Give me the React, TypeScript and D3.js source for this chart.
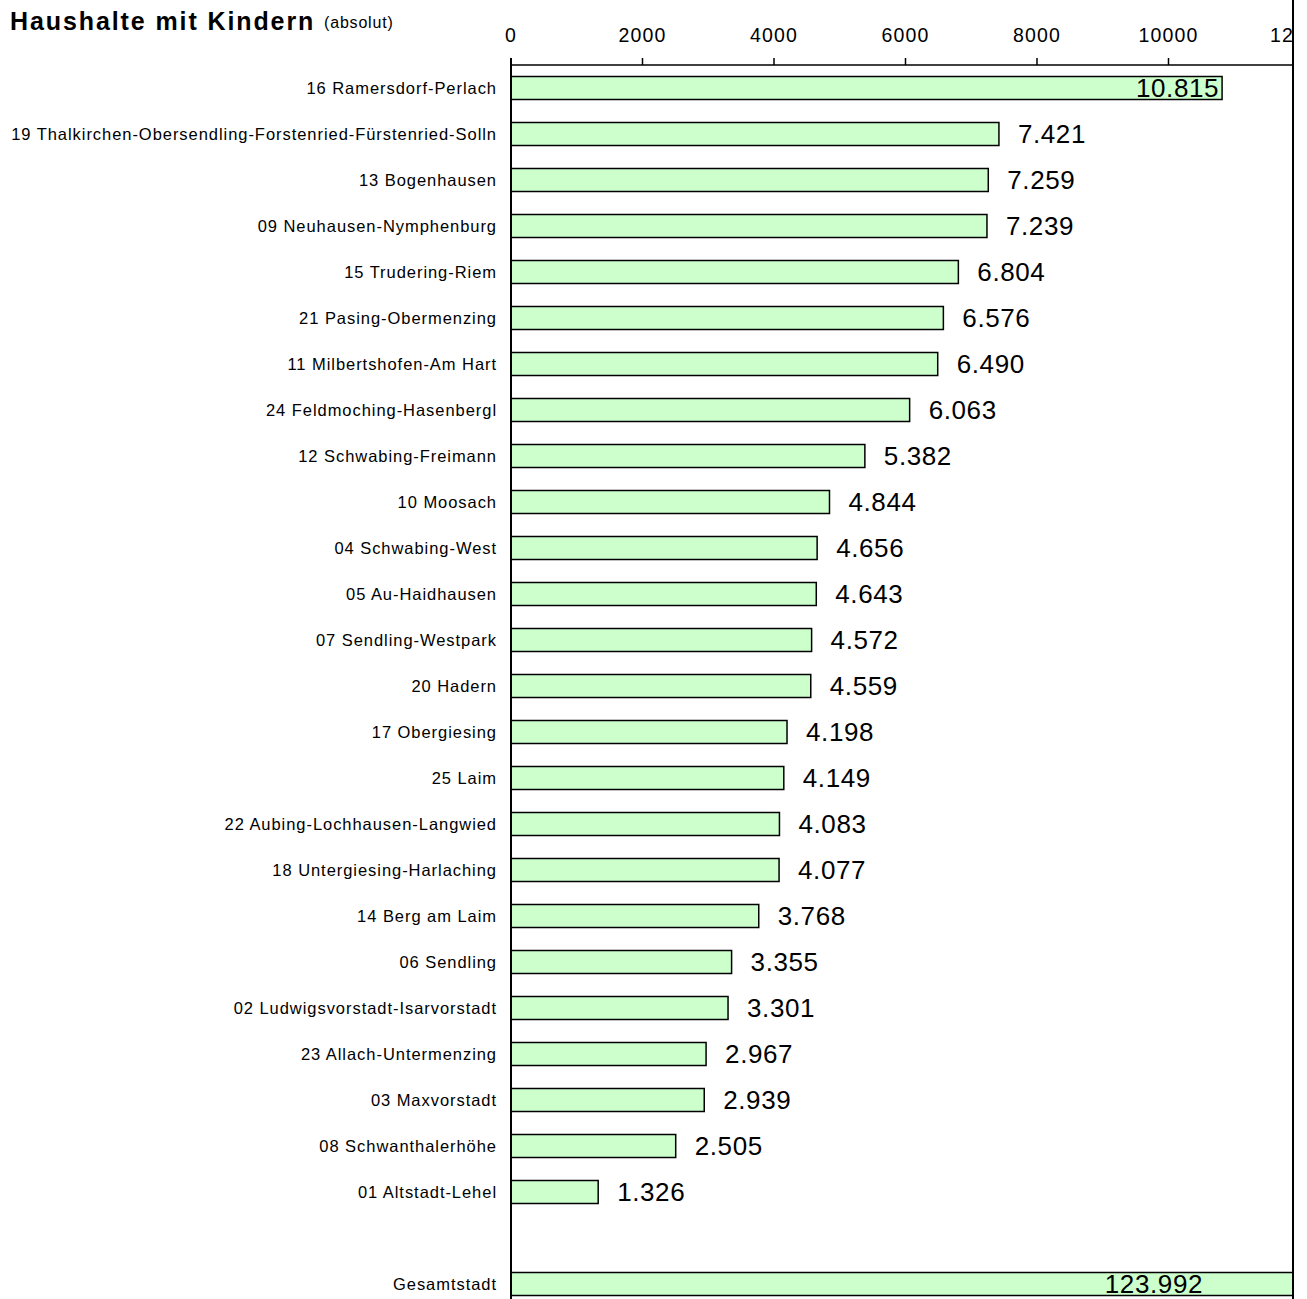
import * as d3 from 'd3';

// Haushalte mit Kindern je Stadtbezirk (absolut)
const districts = [
	'16 Ramersdorf-Perlach',
	'19 Thalkirchen-Obersendling-Forstenried-Fürstenried-Solln',
	'13 Bogenhausen',
	'09 Neuhausen-Nymphenburg',
	'15 Trudering-Riem',
	'21 Pasing-Obermenzing',
	'11 Milbertshofen-Am Hart',
	'24 Feldmoching-Hasenbergl',
	'12 Schwabing-Freimann',
	'10 Moosach',
	'04 Schwabing-West',
	'05 Au-Haidhausen',
	'07 Sendling-Westpark',
	'20 Hadern',
	'17 Obergiesing',
	'25 Laim',
	'22 Aubing-Lochhausen-Langwied',
	'18 Untergiesing-Harlaching',
	'14 Berg am Laim',
	'06 Sendling',
	'02 Ludwigsvorstadt-Isarvorstadt',
	'23 Allach-Untermenzing',
	'03 Maxvorstadt',
	'08 Schwanthalerhöhe',
	'01 Altstadt-Lehel',
];
const households = [
	10815, 7421, 7259, 7239, 6804, 6576, 6490, 6063, 5382, 4844, 4656, 4643, 4572, 4559, 4198, 4149, 4083, 4077,
	3768, 3355, 3301, 2967, 2939, 2505, 1326,
];
const totalLabel = 'Gesamtstadt';
const totalValue = 123992;
const xTicks = [0, 2000, 4000, 6000, 8000, 10000, 12000];

const W = 1307;
const H = 1299;
const left = 511;
const clipRight = 1292;
const top = 65;
const rowStep = 46;

const fmt = (v: number) => d3.format(',')(v).replace(/,/g, '.');

export default function App() {
	const rows = [...districts, '', totalLabel];
	const x = d3.scaleLinear().domain([0, 12000]).range([left, 1300]);
	const y = d3
		.scaleBand<string>()
		.domain(rows.map((r, i) => `${i}`))
		.range([top, top + rows.length * rowStep])
		.paddingInner(0.5)
		.paddingOuter(0.25);

	const bars = districts.map((d, i) => ({ key: `${i}`, label: d, value: households[i] }));
	const totalKey = `${rows.length - 1}`;
	const font = '"Liberation Sans", Arial, sans-serif';

	return (
		<svg width={W} height={H} style={{ position: 'absolute', left: 0, top: 0, background: '#fff' }} fontFamily={font}>
			<defs>
				<clipPath id="plot">
					<rect x={0} y={0} width={clipRight} height={H} />
				</clipPath>
			</defs>
			<text x={10} y={30} fontSize={25} fontWeight="bold" letterSpacing={1.9} fill="#000">
				Haushalte mit Kindern{' '}
				<tspan fontSize={16} fontWeight="normal" letterSpacing={0.8} dy={-2}>
					(absolut)
				</tspan>
			</text>

			<g clipPath="url(#plot)">
				{/* top axis */}
				{xTicks.map((t) => (
					<g key={t}>
						<line x1={x(t)} x2={x(t)} y1={top - 7} y2={top} stroke="#000" strokeWidth={1.5} />
						<text x={x(t)} y={42} fontSize={19.5} letterSpacing={1.2} textAnchor="middle" fill="#000">
							{t}
						</text>
					</g>
				))}
				{bars.map((b) => (
					<rect
						key={b.key}
						x={x(0)}
						y={y(b.key)}
						width={x(b.value) - x(0)}
						height={y.bandwidth()}
						fill="#CCFFCC"
						stroke="#000"
						strokeWidth={1.5}
					/>
				))}
				<rect
					x={x(0)}
					y={y(totalKey)}
					width={x(totalValue) - x(0)}
					height={y.bandwidth()}
					fill="#CCFFCC"
					stroke="#000"
					strokeWidth={1.5}
				/>
			</g>

			{/* frame lines */}
			<line x1={left} x2={clipRight} y1={top} y2={top} stroke="#000" strokeWidth={1.5} />
			<line x1={clipRight + 1} x2={clipRight + 1} y1={0} y2={H} stroke="#000" strokeWidth={2} />
			<line x1={left} x2={left} y1={top - 7} y2={H} stroke="#000" strokeWidth={2} />

			{/* category labels */}
			{rows.map((r, i) =>
				r ? (
					<text
						key={i}
						x={497}
						y={(y(`${i}`) ?? 0) + y.bandwidth() / 2}
						dy="0.35em"
						fontSize={16.5}
						letterSpacing={0.95}
						textAnchor="end"
						fill="#000"
					>
						{r}
					</text>
				) : null
			)}

			{/* value labels */}
			{bars.map((b) => {
				const inside = b.value > 9500;
				return (
					<text
						key={b.key}
						x={inside ? x(b.value) - 3 : x(b.value) + 19}
						y={(y(b.key) ?? 0) + y.bandwidth() / 2}
						dy="0.36em"
						fontSize={26}
						letterSpacing={0.6}
						textAnchor={inside ? 'end' : 'start'}
						fill="#000"
					>
						{fmt(b.value)}
					</text>
				);
			})}
			<text
				x={1203}
				y={(y(totalKey) ?? 0) + y.bandwidth() / 2}
				dy="0.36em"
				fontSize={26}
				letterSpacing={0.6}
				textAnchor="end"
				fill="#000"
			>
				{fmt(totalValue)}
			</text>
		</svg>
	);
}
